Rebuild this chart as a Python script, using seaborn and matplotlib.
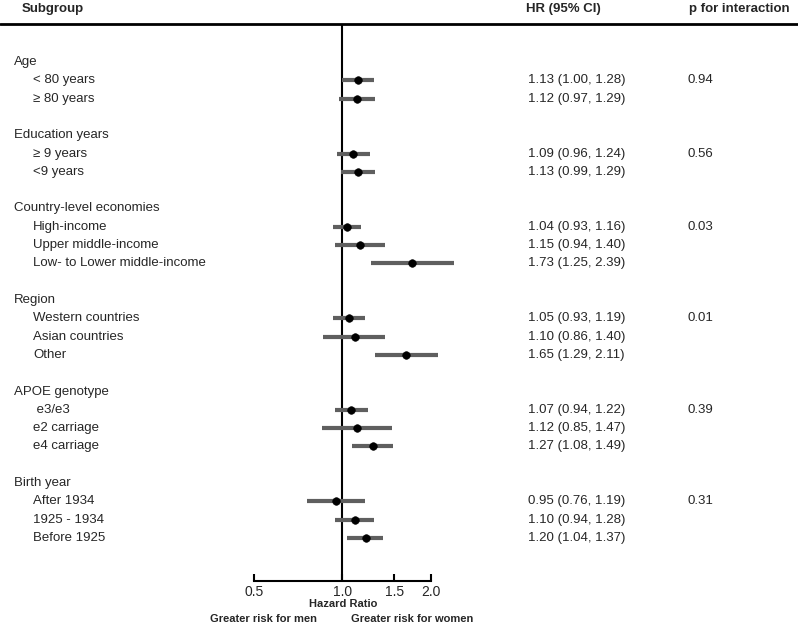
"""Forest plot: sex difference in risk by subgroup."""

import matplotlib.pyplot as plt
import seaborn as sns
import pandas as pd
from matplotlib.lines import Line2D
from matplotlib.transforms import blended_transform_factory

sns.set_theme(style='white')
plt.rcParams['font.family'] = ['Liberation Sans', 'DejaVu Sans']

FONTSIZE = 9.5
SUBSIZE = 8

groups = ['Age', 'Education years', 'Country-level economies', 'Region',
          'APOE genotype', 'Birth year']
items = [
    ['< 80 years', '\u2265 80 years'],
    ['\u2265 9 years', '<9 years'],
    ['High-income', 'Upper middle-income', 'Low- to Lower middle-income'],
    ['Western countries', 'Asian countries', 'Other'],
    [' e3/e3', 'e2 carriage', 'e4 carriage'],
    ['After 1934', '1925 - 1934', 'Before 1925'],
]
hr = [[1.13, 1.12], [1.09, 1.13], [1.04, 1.15, 1.73], [1.05, 1.10, 1.65],
      [1.07, 1.12, 1.27], [0.95, 1.10, 1.20]]
lo = [[1.00, 0.97], [0.96, 0.99], [0.93, 0.94, 1.25], [0.93, 0.86, 1.29],
      [0.94, 0.85, 1.08], [0.76, 0.94, 1.04]]
hi = [[1.28, 1.29], [1.24, 1.29], [1.16, 1.40, 2.39], [1.19, 1.40, 2.11],
      [1.22, 1.47, 1.49], [1.19, 1.28, 1.37]]
p_int = ['0.94', '0.56', '0.03', '0.01', '0.39', '0.31']

# build a long table with one row per line of the plot
rows = []
r = 0
for g, its, h, l, u, p in zip(groups, items, hr, lo, hi, p_int):
    rows.append(dict(row=r, label=g, header=True, hr=None, lo=None, hi=None,
                     p=None))
    r += 1
    for i, (name, a, b, c) in enumerate(zip(its, h, l, u)):
        rows.append(dict(row=r, label=name, header=False, hr=a, lo=b, hi=c,
                         p=p if i == 0 else None))
        r += 1
    r += 1
df = pd.DataFrame(rows)
est = df[~df.header].copy()
est['hr'] = est['hr'].astype(float)

W, H = 798, 626
fig = plt.figure(figsize=(W / 100, H / 100), dpi=100)

# axes placed so that 0.5 -> px 254 and x-axis at px 581
left_px, right_px = 254, 459.3
top_px, bot_px = 24, 581
ax = fig.add_axes([left_px / W, 1 - bot_px / H,
                   (right_px - left_px) / W, (bot_px - top_px) / H])
ax.set_xscale('log')
ax.set_xlim(0.5, 2.5)
ax.set_ylim(28.35, -2.075)

ax.hlines(est['row'], est['lo'], est['hi'], color='#5f5f5f', lw=3,
          zorder=2, clip_on=False)
sns.scatterplot(data=est, x='hr', y='row', ax=ax, color='black', s=30,
                edgecolor='black', zorder=3, clip_on=False)
ax.axvline(1.0, color='black', lw=1.5, zorder=1)

for s in ['top', 'right', 'left']:
    ax.spines[s].set_visible(False)
ax.spines['bottom'].set_bounds(0.5, 2.0)
ax.spines['bottom'].set_color('black')
ax.spines['bottom'].set_linewidth(1.5)
ax.set_xticks([0.5, 1.0, 1.5, 2.0])
ax.set_xticklabels(['0.5', '1.0', '1.5', '2.0'], fontsize=10)
ax.xaxis.set_minor_locator(plt.NullLocator())
ax.tick_params(axis='x', direction='in', length=5, width=1.5, pad=3,
               color='black', bottom=True)
ax.set_yticks([])
ax.set_xlabel('')
ax.set_ylabel('')
fig.text(343 / W, 1 - 604 / H, 'Hazard Ratio', fontsize=SUBSIZE,
         fontweight='bold', ha='center', va='center')

tr = blended_transform_factory(fig.transFigure, ax.transData)
for _, d in df.iterrows():
    x = 14 if d['header'] else 33
    ax.text(x / W, d['row'], d['label'], transform=tr, va='center',
            ha='left', fontsize=FONTSIZE)
    if not d['header']:
        ax.text(528 / W, d['row'],
                '%.2f (%.2f, %.2f)' % (d['hr'], d['lo'], d['hi']),
                transform=tr, va='center', ha='left', fontsize=FONTSIZE)
    if d['p'] is not None:
        ax.text(688 / W, d['row'], d['p'], transform=tr, va='center',
                ha='left', fontsize=FONTSIZE)

# column headers and rule
fig.text(22 / W, 1 - 9 / H, 'Subgroup', fontsize=FONTSIZE,
         fontweight='bold', va='center')
fig.text(526 / W, 1 - 9 / H, 'HR (95% CI)', fontsize=FONTSIZE,
         fontweight='bold', va='center')
fig.text(689 / W, 1 - 9 / H, 'p for interaction', fontsize=FONTSIZE,
         fontweight='bold', va='center')
fig.add_artist(Line2D([0, 1], [1 - 24 / H, 1 - 24 / H], color='black',
                      lw=2, transform=fig.transFigure))

fig.text(263 / W, 1 - 619 / H, 'Greater risk for men', fontsize=SUBSIZE,
         fontweight='bold', ha='center', va='center')
fig.text(412 / W, 1 - 619 / H, 'Greater risk for women', fontsize=SUBSIZE,
         fontweight='bold', ha='center', va='center')

fig.savefig('out.png', dpi=100)
